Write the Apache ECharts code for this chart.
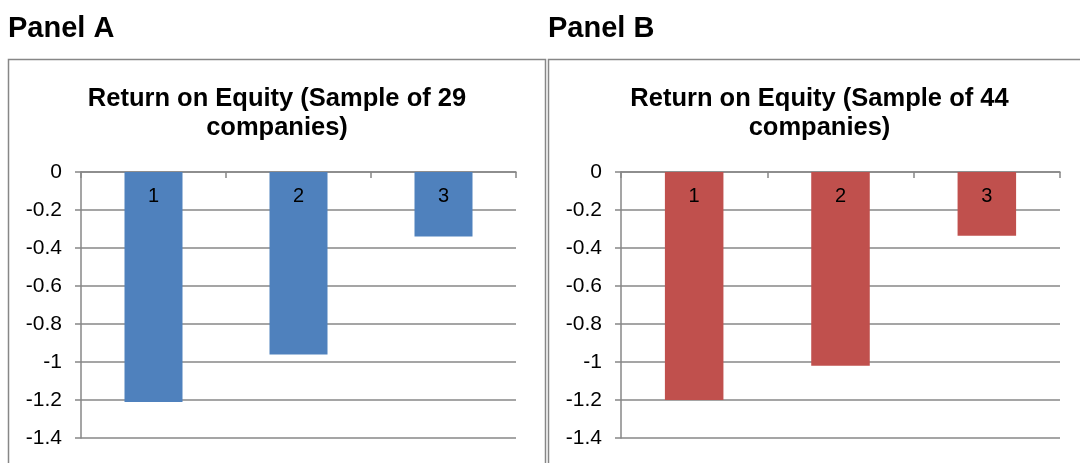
<!DOCTYPE html>
<html>
<head>
<meta charset="utf-8">
<script src="https://cdn.jsdelivr.net/npm/echarts@6/dist/echarts.min.js"></script>
<style>
  html, body { margin: 0; padding: 0; background: #ffffff; }
  #chart { width: 1080px; height: 463px; }
</style>
</head>
<body>
<div id="chart"></div>
<script>
// Return on equity by group, two samples
const categories = ['1', '2', '3'];
const roeSample29 = [-1.21, -0.96, -0.34];
const roeSample44 = [-1.20, -1.02, -0.335];
const yTickValues = [0, -0.2, -0.4, -0.6, -0.8, -1, -1.2, -1.4];
const yTickLabels = ['0', '-0.2', '-0.4', '-0.6', '-0.8', '-1', '-1.2', '-1.4'];
const panelNames = ['Panel A', 'Panel B'];
const chartTitles = ['Return on Equity (Sample of 29\ncompanies)', 'Return on Equity (Sample of 44\ncompanies)'];

const FONT = '"Liberation Sans", Arial, Helvetica, sans-serif';
const GRAY = '#878787';

function tickLabel(v) {
  for (let i = 0; i < yTickValues.length; i++) {
    if (Math.abs(yTickValues[i] - v) < 1e-6) return yTickLabels[i];
  }
  return '';
}

const grids = [
  { left: 81, top: 172, width: 435, height: 266 },
  { left: 621, top: 172, width: 439, height: 266 }
];

function xAxisFor(i) {
  return {
    type: 'category',
    gridIndex: i,
    position: 'top',
    data: categories,
    axisLine: { show: true, lineStyle: { color: GRAY, width: 1.5 } },
    axisTick: { show: true, inside: true, length: 6, lineStyle: { color: GRAY, width: 1.5 } },
    axisLabel: { show: false },
    splitLine: { show: false }
  };
}

function yAxisFor(i) {
  return {
    type: 'value',
    gridIndex: i,
    min: -1.4,
    max: 0,
    interval: 0.2,
    axisLine: { show: true, lineStyle: { color: GRAY, width: 1.5 } },
    axisTick: { show: true, length: 6, lineStyle: { color: GRAY, width: 1.5 } },
    axisLabel: {
      margin: 19,
      fontFamily: FONT,
      fontSize: 21,
      color: '#000000',
      formatter: tickLabel
    },
    splitLine: { show: true, lineStyle: { color: GRAY, width: 1.5 } }
  };
}

function barSeries(i, values, color) {
  return {
    type: 'bar',
    xAxisIndex: i,
    yAxisIndex: i,
    data: values,
    barWidth: '40%',
    itemStyle: { color: color },
    label: {
      show: true,
      position: 'insideTop',
      distance: 14,
      formatter: '{b}',
      fontFamily: FONT,
      fontSize: 20,
      color: '#000000'
    },
    silent: true,
    animation: false
  };
}

const option = {
  backgroundColor: '#ffffff',
  animation: false,
  title: [
    { text: panelNames[0], left: 3, top: 9, textStyle: { fontFamily: FONT, fontSize: 29, fontWeight: 'bold', color: '#000000' } },
    { text: panelNames[1], left: 543, top: 9, textStyle: { fontFamily: FONT, fontSize: 29, fontWeight: 'bold', color: '#000000' } },
    { text: chartTitles[0], left: 272, textAlign: 'center', top: 79,
      textStyle: { fontFamily: FONT, fontSize: 25.5, fontWeight: 'bold', color: '#000000', lineHeight: 29, align: 'center' } },
    { text: chartTitles[1], left: 814.5, textAlign: 'center', top: 79,
      textStyle: { fontFamily: FONT, fontSize: 25.5, fontWeight: 'bold', color: '#000000', lineHeight: 29, align: 'center' } }
  ],
  graphic: [
    { type: 'rect', shape: { x: 8.5, y: 59.5, width: 537, height: 420 }, style: { fill: 'none', stroke: GRAY, lineWidth: 1.5 }, silent: true, z: -1 },
    { type: 'rect', shape: { x: 548.5, y: 59.5, width: 560, height: 420 }, style: { fill: 'none', stroke: GRAY, lineWidth: 1.5 }, silent: true, z: -1 }
  ],
  grid: grids,
  xAxis: [xAxisFor(0), xAxisFor(1)],
  yAxis: [yAxisFor(0), yAxisFor(1)],
  series: [
    barSeries(0, roeSample29, '#4F81BD'),
    barSeries(1, roeSample44, '#C0504D')
  ]
};

const chart = echarts.init(document.getElementById('chart'), null, { renderer: 'canvas' });
chart.setOption(option);
</script>
</body>
</html>
